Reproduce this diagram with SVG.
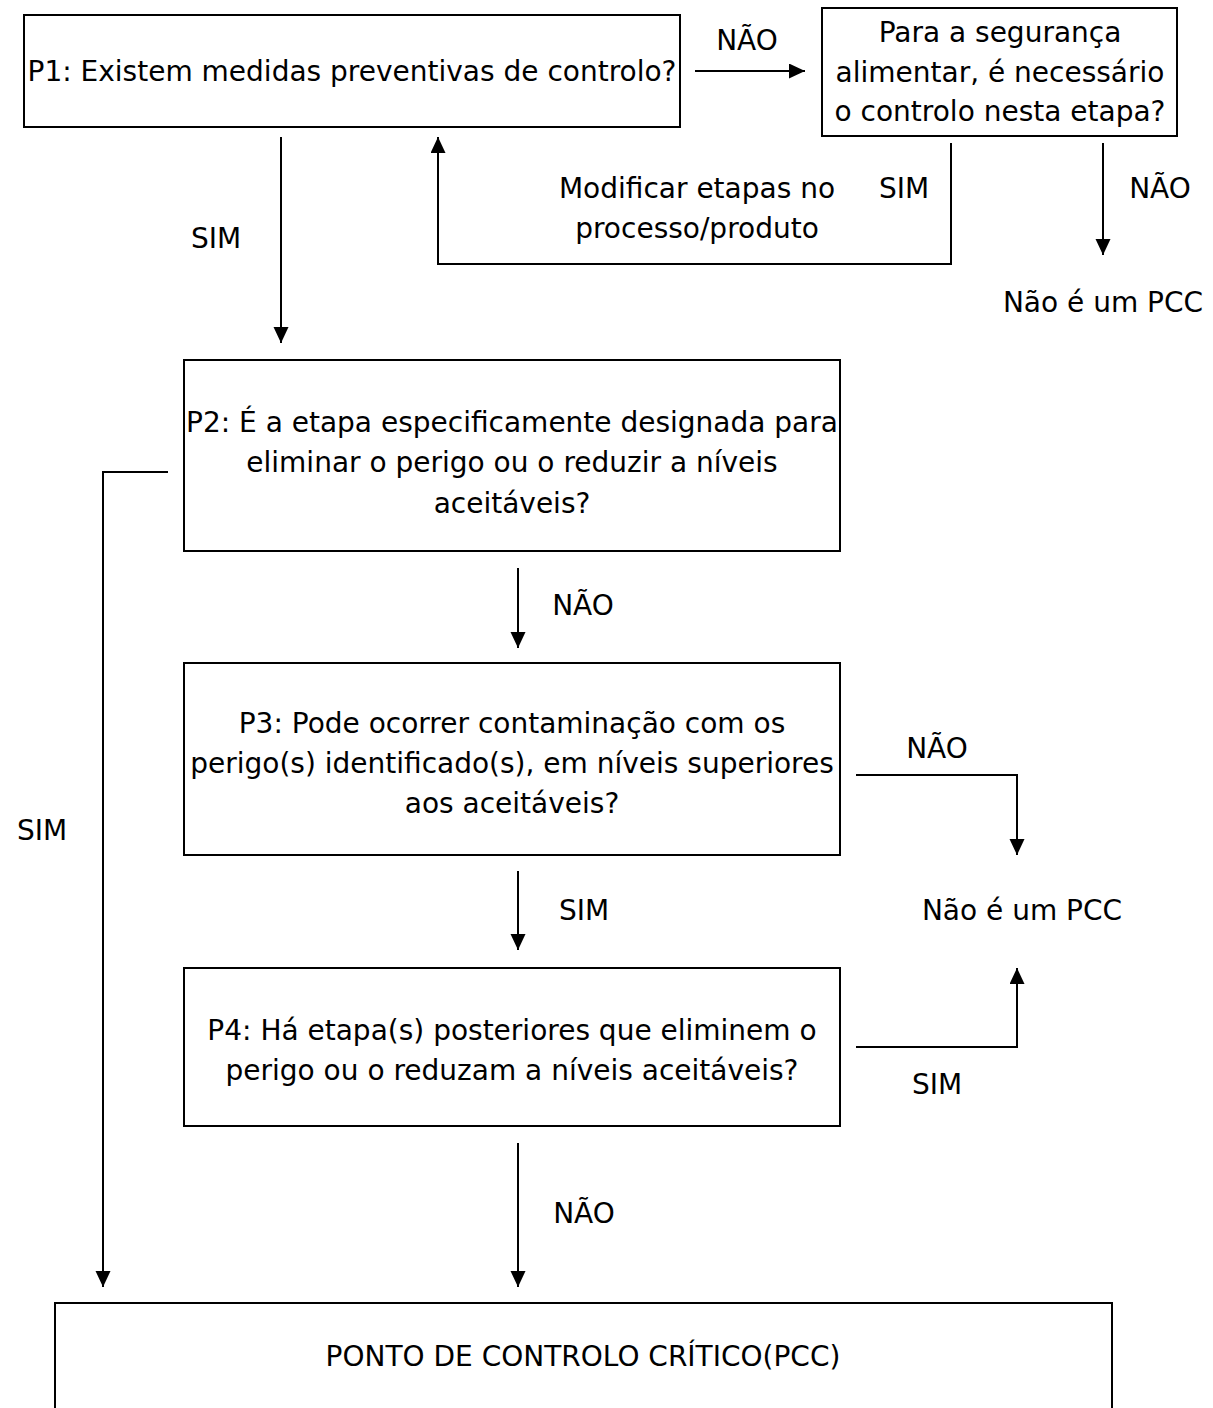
<svg xmlns="http://www.w3.org/2000/svg" width="1213" height="1408" viewBox="0 0 1213 1408">
<style>
text{font-family:"DejaVu Sans","Liberation Sans",sans-serif;font-size:28px;fill:#000;text-anchor:middle}
.box{fill:#fff;stroke:#000;stroke-width:2}
.c{fill:none;stroke:#000;stroke-width:2}
</style>
<defs>
<marker id="ah" markerWidth="17" markerHeight="16" refX="16" refY="7.5" orient="auto" markerUnits="userSpaceOnUse">
<path d="M0,0 L16,7.5 L0,15 Z" fill="#000"/>
</marker>
</defs>
<rect width="1213" height="1408" fill="#fff"/>
<g id="connectors">
<line class="c" x1="695" y1="71" x2="805" y2="71" marker-end="url(#ah)"/>
<polyline class="c" points="951,143 951,264 438,264 438,137" marker-end="url(#ah)"/>
<line class="c" x1="1103" y1="143" x2="1103" y2="255" marker-end="url(#ah)"/>
<line class="c" x1="281" y1="137" x2="281" y2="343" marker-end="url(#ah)"/>
<polyline class="c" points="168,472 103,472 103,1287" marker-end="url(#ah)"/>
<line class="c" x1="518" y1="568" x2="518" y2="648" marker-end="url(#ah)"/>
<polyline class="c" points="856,775 1017,775 1017,855" marker-end="url(#ah)"/>
<line class="c" x1="518" y1="871" x2="518" y2="950" marker-end="url(#ah)"/>
<polyline class="c" points="856,1047 1017,1047 1017,968" marker-end="url(#ah)"/>
<line class="c" x1="518" y1="1143" x2="518" y2="1287" marker-end="url(#ah)"/>
<text x="747" y="50">NÃO</text>
<text x="697" y="198">Modificar etapas no</text>
<text x="697" y="238">processo/produto</text>
<text x="904" y="198">SIM</text>
<text x="1160" y="198">NÃO</text>
<text x="216" y="248">SIM</text>
<text x="42" y="840">SIM</text>
<text x="583" y="615">NÃO</text>
<text x="937" y="758">NÃO</text>
<text x="584" y="920">SIM</text>
<text x="937" y="1094">SIM</text>
<text x="584" y="1223">NÃO</text>
</g>
<g id="p1">
<rect class="box" x="24" y="15" width="656" height="112"/>
<text x="352" y="81">P1: Existem medidas preventivas de controlo?</text>
</g>
<g id="q-seguranca">
<rect class="box" x="822" y="8" width="355" height="128"/>
<text x="1000" y="42">Para a segurança</text>
<text x="1000" y="82">alimentar, é necessário</text>
<text x="1000" y="121">o controlo nesta etapa?</text>
</g>
<g id="nao-pcc-1">
<text x="1103" y="312">Não é um PCC</text>
</g>
<g id="p2">
<rect class="box" x="184" y="360" width="656" height="191"/>
<text x="512" y="432">P2: É a etapa especificamente designada para</text>
<text x="512" y="472">eliminar o perigo ou o reduzir a níveis</text>
<text x="512" y="513">aceitáveis?</text>
</g>
<g id="p3">
<rect class="box" x="184" y="663" width="656" height="192"/>
<text x="512" y="733">P3: Pode ocorrer contaminação com os</text>
<text x="512" y="773">perigo(s) identificado(s), em níveis superiores</text>
<text x="512" y="813">aos aceitáveis?</text>
</g>
<g id="nao-pcc-2">
<text x="1022" y="920">Não é um PCC</text>
</g>
<g id="p4">
<rect class="box" x="184" y="968" width="656" height="158"/>
<text x="512" y="1040">P4: Há etapa(s) posteriores que eliminem o</text>
<text x="512" y="1080">perigo ou o reduzam a níveis aceitáveis?</text>
</g>
<g id="pcc">
<rect class="box" x="55" y="1303" width="1057" height="120"/>
<text x="583" y="1366">PONTO DE CONTROLO CRÍTICO(PCC)</text>
</g>
</svg>
